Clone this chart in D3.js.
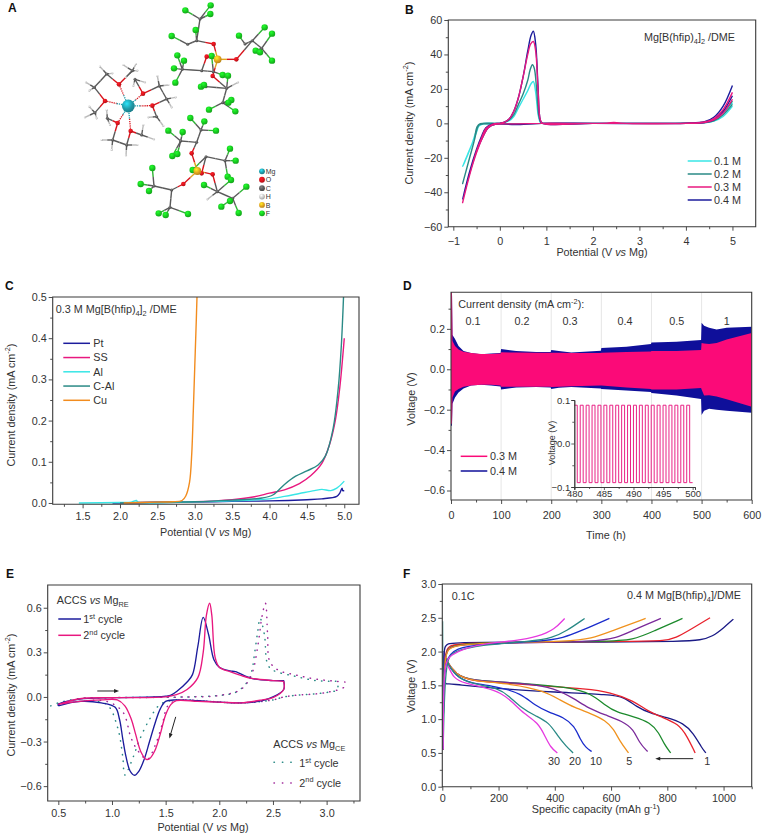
<!DOCTYPE html>
<html><head><meta charset="utf-8">
<script src="https://cdn.jsdelivr.net/npm/d3@7/dist/d3.min.js"></script>
<style>html,body{margin:0;padding:0;background:#fff}svg{display:block}text{font-family:"Liberation Sans",Arial,sans-serif;fill:#333}</style>
</head><body><svg id="c" width="763" height="837"></svg>
<script>
// ---------- Panel A: structure (atom positions in drawing units 0..900)
const mgAtoms=[[385,318]];
const oAtoms=[[357,253],[429,281],[457,317],[315,303],[353,369],[392,393],[641,132],[709,178],[620,170],[638,228],[575,460],[638,523],[550,552],[605,520]];
const bAtoms=[[653,178],[592,513]];
const cAtoms=[[283,262],[320,222],[397,212],[405,238],[478,258],[500,297],[470,350],[285,338],[322,355],[338,420],[380,435],[425,405],[600,57],[590,122],[563,133],[605,212],[547,208],[640,215],[618,260],[680,265],[668,308],[757,122],[735,132],[785,145],[603,390],[590,427],[542,423],[618,470],[675,482],[515,570],[462,558],[510,622],[652,575],[698,595]];
const hAtoms=[[300,200],[337,220],[258,247],[268,272],[370,195],[408,192],[412,212],[378,232],[400,258],[435,247],[472,228],[505,255],[527,292],[515,322],[445,352],[490,378],[268,320],[255,352],[290,355],[320,330],[330,375],[305,420],[335,450],[378,466],[430,375],[462,418],[412,435],[714,247],[622,598]];
const fAtoms=[[632,16],[556,31],[631,42],[587,90],[515,108],[552,182],[532,166],[522,205],[526,248],[603,260],[612,255],[635,168],[668,225],[684,227],[717,107],[794,82],[816,101],[767,152],[780,157],[816,182],[627,329],[694,300],[685,308],[706,334],[571,354],[613,364],[648,392],[505,392],[548,396],[517,468],[532,462],[690,446],[707,482],[683,530],[693,540],[457,504],[422,552],[447,573],[476,640],[497,645],[564,642],[612,555],[664,620],[690,603],[716,639],[739,560],[578,510]];
const heavyBonds=[[283,262,320,222],[320,222,357,253],[357,253,397,212],[283,262,315,303],[315,303,285,338],[429,281,405,238],[429,281,478,258],[478,258,500,297],[500,297,457,317],[457,317,470,350],[353,369,322,355],[353,369,338,420],[338,420,380,435],[380,435,392,393],[392,393,425,405],
[653,178,641,132],[641,132,590,122],[590,122,600,57],[590,122,563,133],[653,178,709,178],[709,178,757,122],[757,122,735,132],[757,122,785,145],[653,178,620,170],[620,170,605,212],[605,212,547,208],[605,212,640,215],[653,178,638,228],[638,228,680,265],[680,265,668,308],[680,265,618,260],
[592,513,575,460],[575,460,590,427],[590,427,603,390],[590,427,542,423],[592,513,605,520],[605,520,618,470],[618,470,675,482],[592,513,638,523],[638,523,652,575],[652,575,698,595],[592,513,550,552],[550,552,515,570],[515,570,462,558],[515,570,510,622]];
const atomKeys=["Mg","O","C","H","B","F"];
const atomColors={Mg:"#1f9aa8",O:"#d8131b",C:"#5a5a5a",H:"#c9c9c9",B:"#e2a31c",F:"#17c91f"};

// ---------- Panel B
const bLabels=["0.1 M","0.2 M","0.3 M","0.4 M"];
const bColors=["#38e6e6","#2a8a86","#e8187f","#1c1c9c"];
const b01=[[5,10],[4.8,4],[4.6,1.3],[4.4,.3],[4,.05],[2,0],[.9,0],[.3,-.3],[-.2,-.3],[-.35,-.3],[-.45,-1.5],[-.6,-12],[-.7,-18.5],[-.8,-25],[-.7,-19],[-.6,-12],[-.5,-5],[-.44,-1],[-.35,-.1],[0,0],[.1,.5],[.2,1.5],[.3,4],[.4,9],[.5,14],[.6,19],[.67,23],[.72,24.3],[.77,18],[.83,4],[.88,.3],[1,0],[2,0],[4,.1],[4.4,.5],[4.6,1.8],[4.8,6],[5,12]];
const b02=[[5,11],[4.8,5],[4.6,1.5],[4.4,.4],[4,.05],[2,0],[.9,0],[.3,-.3],[-.2,-.3],[-.35,-.3],[-.45,-1],[-.55,-10],[-.65,-20],[-.8,-35],[-.65,-20],[-.55,-10],[-.49,-2],[-.42,-.2],[0,0],[.1,.6],[.2,2],[.3,5],[.4,11],[.5,17],[.6,25],[.65,31],[.7,34],[.74,32],[.79,20],[.84,4],[.89,.3],[1,0],[2,0],[4,.1],[4.4,.6],[4.6,2],[4.8,6.5],[5,13]];
const b03=[[5,14],[4.8,6],[4.6,2],[4.4,.5],[4,.05],[2.6,.1],[2.45,.5],[2.3,.1],[.9,0],[.3,-.3],[-.1,-.6],[-.25,-2.5],[-.35,-7],[-.5,-17],[-.65,-30],[-.8,-46],[-.65,-30],[-.5,-16],[-.4,-9],[-.3,-3],[-.15,-.4],[0,0],[.1,.7],[.2,2.5],[.3,7],[.4,15],[.5,27],[.6,40],[.66,46],[.72,47.5],[.77,42],[.82,20],[.87,2],[.92,0],[2,0],[4,.1],[4.4,.8],[4.6,2.8],[4.8,8],[5,18]];
const b04=[[5,16],[4.8,7],[4.6,2],[4.4,.5],[4,.05],[2,0],[.9,0],[.33,-.7],[-.1,-.5],[-.25,-2.5],[-.35,-7],[-.5,-16],[-.65,-29],[-.8,-44],[-.65,-28],[-.5,-15],[-.4,-8],[-.3,-2.5],[-.15,-.4],[0,0],[.1,.7],[.2,2.5],[.3,7],[.4,15],[.5,27],[.6,42],[.67,51],[.72,53.5],[.77,46],[.82,22],[.87,2],[.92,0],[2,0],[4,.1],[4.4,.9],[4.6,3.5],[4.8,10],[5,22]];

// ---------- Panel C
const cLabels=["Pt","SS","Al","C-Al","Cu"];
const cColors=["#1c1c9c","#e8187f","#38e6e6","#2a8a86","#f28c1e"];
const cPt=[[1.9,0],[2.5,.001],[3,.002],[3.5,.004],[4,.005],[4.5,.008],[4.7,.01],[4.9,.016],[4.94,.024],[4.97,.036],[4.98,.03],[5,.03]];
const cSS=[[2,0],[2.5,.002],[3,.003],[3.5,.008],[3.8,.015],[4,.024],[4.2,.032],[4.4,.047],[4.55,.066],[4.7,.096],[4.8,.14],[4.88,.2],[4.94,.28],[5,.4]];
const cAl=[[1.45,0],[2,.001],[2.15,.002],[2.22,.006],[2.24,.002],[3,.003],[3.5,.005],[4,.01],[4.2,.016],[4.4,.023],[4.6,.03],[4.7,.033],[4.82,.03],[4.9,.036],[5,.053]];
const cCAl=[[2,0],[2.5,.002],[3,.003],[3.5,.007],[3.9,.012],[4.05,.02],[4.2,.045],[4.35,.065],[4.5,.078],[4.65,.092],[4.75,.115],[4.85,.18],[4.92,.28],[4.96,.38],[4.99,.5]];
const cCu=[[2.05,0],[2.5,.002],[2.7,.003],[2.83,.006],[2.88,.017],[2.93,.05],[2.96,.12],[2.98,.22],[3,.33],[3.02,.44],[3.03,.5]];

// ---------- Panel D
const dLabels=["0.3 M","0.4 M"];
const dColors=["#fb0a78","#0f0f9a"];
const dTimes=[0,2,3,8,15,25,40,60,80,99,100,130,170,199,200,215,240,299,300,350,399,400,450,499,500,505,515,530,550,600];
const d04Upper=[.381,.381,.17,.15,.115,.09,.08,.075,.078,.08,.1,.09,.085,.085,.095,.09,.083,.092,.105,.112,.125,.133,.136,.145,.23,.215,.205,.197,.205,.21];
const d04Lower=[-.28,-.28,-.17,-.14,-.115,-.095,-.08,-.076,-.08,-.085,-.1,-.09,-.088,-.09,-.098,-.092,-.088,-.095,-.098,-.105,-.113,-.117,-.13,-.147,-.226,-.205,-.195,-.2,-.205,-.215];
const d03Upper=[.381,.381,.14,.115,.098,.087,.08,.076,.076,.078,.084,.083,.082,.082,.082,.082,.08,.08,.082,.085,.088,.09,.09,.095,.13,.128,.125,.13,.148,.18];
const d03Lower=[-.27,-.27,-.14,-.11,-.098,-.087,-.08,-.076,-.077,-.08,-.086,-.086,-.086,-.086,-.088,-.086,-.084,-.08,-.08,-.09,-.098,-.1,-.1,-.093,-.1,-.13,-.128,-.135,-.148,-.185];
const dTickCurrents=["0.1","0.2","0.3","0.4","0.5","1"];
const insetSwitch=[480,480.5,481,481.5,482,482.5,483,483.5,484,484.5,485,485.5,486,486.5,487,487.5,488,488.5,489,489.5,490,490.5,491,491.5,492,492.5,493,493.5,494,494.5,495,495.5,496,496.5,497,497.5,498,498.5,499,499.5,500];
const insetLevels=[.088,-.09];

// ---------- Panel E
const e1=[[.5,-.06],[.5,-.05],[.7,-.015],[1,-.005],[1.4,0],[1.5,.005],[1.55,.012],[1.6,.035],[1.7,.1],[1.75,.15],[1.8,.34],[1.85,.535],[1.9,.42],[1.95,.25],[2,.2],[2.1,.175],[2.15,.17],[2.3,.125],[2.5,.11],[2.6,.11],[2.6,.11],[2.6,.05],[2.5,0],[2.4,-.025],[2.2,-.04],[2,-.035],[1.8,-.025],[1.6,-.02],[1.5,-.03],[1.45,-.08],[1.4,-.18],[1.35,-.3],[1.3,-.42],[1.25,-.5],[1.21,-.527],[1.17,-.5],[1.13,-.4],[1.1,-.28],[1.07,-.15],[1.03,-.07],[.9,-.04],[.7,-.03],[.5,-.06]];
const e2=[[.5,-.05],[.7,-.012],[1,-.005],[1.5,0],[1.6,.015],[1.7,.05],[1.8,.13],[1.85,.3],[1.88,.55],[1.91,.63],[1.93,.55],[1.96,.27],[2,.2],[2.1,.17],[2.2,.145],[2.3,.125],[2.5,.11],[2.6,.105],[2.6,.105],[2.6,.05],[2.5,-.005],[2.4,-.02],[2.2,-.04],[2,-.035],[1.8,-.03],[1.6,-.025],[1.55,-.05],[1.5,-.12],[1.45,-.25],[1.4,-.36],[1.35,-.415],[1.32,-.42],[1.27,-.37],[1.22,-.25],[1.18,-.15],[1.12,-.06],[1.05,-.02],[.9,-.02],[.7,-.03],[.5,-.05]];
const eCE1=[[.43,-.06],[.5,-.04],[.7,-.01],[1,-.005],[1.7,0],[2,.01],[2.15,.03],[2.25,.09],[2.3,.17],[2.33,.3],[2.36,.45],[2.38,.53],[2.42,.42],[2.45,.22],[2.5,.18],[2.7,.14],[2.9,.11],[3.1,.105],[3.1,.105],[3.1,.05],[3,.03],[2.7,.01],[2.6,0],[2.5,-.02],[2.2,-.04],[1.9,-.03],[1.6,-.02],[1.45,-.05],[1.35,-.15],[1.25,-.3],[1.2,-.4],[1.12,-.525],[1.1,-.4],[1.05,-.2],[.95,-.05],[.7,-.03],[.5,-.05]];
const eCE2=[[.5,-.05],[.7,-.012],[1,-.005],[1.7,0],[2,.01],[2.2,.05],[2.3,.15],[2.36,.35],[2.4,.55],[2.43,.63],[2.45,.42],[2.47,.24],[2.55,.18],[2.7,.15],[2.9,.12],[3.17,.1],[3.17,.1],[3.17,.07],[3,.03],[2.7,.01],[2.6,0],[2.5,-.02],[2.2,-.04],[1.9,-.03],[1.6,-.025],[1.52,-.06],[1.47,-.18],[1.4,-.33],[1.33,-.42],[1.25,-.37],[1.18,-.28],[1.1,-.1],[.95,-.03],[.7,-.03],[.5,-.05]];

// ---------- Panel F
const fColors=["#1a1a86","#e8222c","#1c8a2c","#7a2a9a","#f0921e","#1a2ccc","#2a8a86","#e63ae0"];
const fCycleLabels=["30","20","10","5","1"];
const fCharge=[
[[3,.55],[3,.55],[4,1.4],[5,2],[10,2.08],[20,2.12],[40,2.13],[200,2.14],[600,2.14],[850,2.15],[920,2.17],[960,2.22],[1000,2.35],[1035,2.48],[1035,2.48]],
[[3,.55],[3,.55],[4,1.4],[10,2.05],[30,2.12],[300,2.14],[700,2.15],[790,2.16],[830,2.2],[880,2.32],[952,2.5],[952,2.5]],
[[3,.55],[3,.55],[4,1.4],[10,2],[30,2.12],[300,2.14],[580,2.15],[680,2.17],[750,2.3],[854,2.49],[854,2.49]],
[[3,.55],[3,.55],[4,1.4],[10,2],[30,2.11],[300,2.13],[540,2.15],[620,2.2],[680,2.32],[777,2.49],[777,2.49]],
[[3,.55],[3,.55],[4,1.4],[10,1.98],[30,2.1],[200,2.13],[450,2.15],[530,2.19],[600,2.3],[723,2.49],[723,2.49]],
[[3,.55],[3,.55],[4,1.4],[10,1.9],[50,2.05],[130,2.11],[350,2.15],[430,2.2],[500,2.32],[594,2.49],[594,2.49]],
[[1,2.45],[1,2.45],[3,.55],[3,.55],[10,1.9],[40,2],[130,2.1],[320,2.15],[390,2.2],[440,2.3],[506,2.49],[506,2.49]],
[[3,.55],[3,.55],[4,1.4],[10,1.85],[30,1.95],[80,2.05],[150,2.12],[260,2.16],[340,2.22],[400,2.33],[435,2.49],[435,2.49]]];
const fDischarge=[
[[5,2],[5,2],[6,1.5],[20,1.53],[50,1.51],[200,1.45],[400,1.4],[600,1.36],[644,1.33],[692,1.18],[739,1.085],[798,1.026],[858,.94],[893,.79],[923,.57],[937,.5],[937,.5]],
[[5,2],[5,2],[10,1.88],[50,1.65],[100,1.57],[200,1.54],[400,1.48],[500,1.45],[600,1.4],[680,1.27],[730,1.12],[780,1.03],[840,.93],[870,.75],[899,.5],[899,.5]],
[[5,2],[5,2],[10,1.88],[50,1.65],[100,1.57],[300,1.53],[450,1.47],[530,1.38],[580,1.2],[620,1.1],[680,1.04],[740,.95],[770,.8],[790,.62],[812,.5],[812,.5]],
[[5,2],[5,2],[10,1.88],[50,1.65],[100,1.57],[300,1.53],[400,1.46],[470,1.3],[520,1.16],[580,1.06],[640,.97],[680,.85],[700,.65],[730,.52],[730,.52]],
[[5,2],[5,2],[10,1.88],[50,1.65],[100,1.57],[250,1.52],[360,1.42],[420,1.28],[470,1.17],[530,1.08],[580,.98],[610,.85],[630,.68],[662,.5],[662,.5]],
[[5,2],[5,2],[10,1.88],[50,1.62],[100,1.53],[200,1.48],[280,1.38],[330,1.2],[380,1.1],[430,1.03],[470,.9],[490,.7],[510,.58],[531,.52],[531,.52]],
[[5,2],[5,2],[10,1.88],[50,1.62],[100,1.53],[200,1.46],[240,1.33],[280,1.17],[330,1.05],[380,.95],[410,.75],[440,.6],[465,.5],[465,.5]],
[[5,2],[5,2],[10,1.85],[20,1.8],[40,1.6],[80,1.53],[150,1.47],[210,1.39],[250,1.25],[290,1.08],[340,.95],[365,.75],[385,.58],[409,.5],[409,.5]]];

// ---------- helpers
const svg=d3.select("#c");
const defs=svg.append("defs");
const axisColor="#3a3a3a", FS=10.8;
let clipId=0;
function rich(g,x,y,segs,o={}){
  const fs=o.size||FS;
  const t=g.append("text").attr("x",x).attr("y",y).attr("font-size",fs).attr("text-anchor",o.anchor||"start");
  if(o.rotate) t.attr("transform",`rotate(-90 ${x} ${y})`);
  let shift=0;
  segs.forEach(s=>{
    const [str,st]=Array.isArray(s)?s:[s,null];
    const ts=t.append("tspan").text(str);
    let target=0;
    if(st==="sub"){target=fs*.28;ts.attr("font-size",fs*.68);}
    if(st==="sup"){target=-fs*.38;ts.attr("font-size",fs*.68);}
    if(st==="i")ts.attr("font-style","italic");
    ts.attr("dy",target-shift);shift=target;
  });
  return t;
}
function panel(p){
  const x=d3.scaleLinear().domain(p.xd).range([p.l,p.r]);
  const y=d3.scaleLinear().domain(p.yd).range([p.b,p.t]);
  const g=svg.append("g");
  const id="clip"+(++clipId);
  defs.append("clipPath").attr("id",id).append("rect").attr("x",p.l).attr("y",p.t).attr("width",p.r-p.l).attr("height",p.b-p.t);
  const plot=g.append("g").attr("clip-path",`url(#${id})`);
  const over=g.append("g");
  const ax=over.append("g").attr("transform",`translate(0,${p.b})`).call(d3.axisBottom(x).tickValues(p.xt).tickFormat(p.xf||d3.format("")).tickSize(4).tickPadding(p.xpad||5));
  const ay=over.append("g").attr("transform",`translate(${p.l},0)`).call(d3.axisLeft(y).tickValues(p.yt).tickFormat(p.yf||d3.format("")).tickSize(4).tickPadding(2));
  const axm=over.append("g").attr("transform",`translate(0,${p.b})`).call(d3.axisBottom(x).tickValues(p.xm).tickFormat("").tickSize(2.5));
  const aym=over.append("g").attr("transform",`translate(${p.l},0)`).call(d3.axisLeft(y).tickValues(p.ym).tickFormat("").tickSize(2.5));
  [ax,ay,axm,aym].forEach(a=>{a.selectAll("path").remove();a.selectAll("line").attr("stroke",axisColor).attr("stroke-width",.9);a.selectAll("text").attr("font-size",FS).attr("fill","#333").attr("font-family",'"Liberation Sans",Arial,sans-serif');});
  if(p.frame!==false) over.append("path").attr("fill","none").attr("stroke",axisColor).attr("stroke-width",1.1)
    .attr("d",`M${x.range()[0]},${y.range()[1]}H${x.range()[1]}V${y.range()[0]}H${x.range()[0]}Z`);
  return {x,y,plot,over,g};
}
const lineFn=(P,c)=>d3.line().x(d=>P.x(d[0])).y(d=>P.y(d[1])).curve(c||d3.curveCatmullRom.alpha(.5));
function draw(P,data,color,w=1.35,dash,curve){
  const s=P.plot.append("path").datum(data).attr("fill","none").attr("stroke",color).attr("stroke-width",w).attr("stroke-linejoin","round").attr("d",lineFn(P,curve));
  if(dash) s.attr("stroke-dasharray",dash).attr("stroke-linecap","round");
  return s;
}
function arrow(P,a,b,w=1){
  const over=P.over, x1=P.x(a[0]),y1=P.y(a[1]),x2=P.x(b[0]),y2=P.y(b[1]);
  const an=Math.atan2(y2-y1,x2-x1), L=5, W=1.9;
  over.append("line").attr("x1",x1).attr("y1",y1).attr("x2",x2-Math.cos(an)*L*.7).attr("y2",y2-Math.sin(an)*L*.7).attr("stroke","#222").attr("stroke-width",w);
  const px=Math.cos(an+Math.PI/2)*W, py=Math.sin(an+Math.PI/2)*W;
  over.append("path").attr("fill","#222").attr("d",`M${x2},${y2}L${x2-Math.cos(an)*L+px},${y2-Math.sin(an)*L+py}L${x2-Math.cos(an)*L-px},${y2-Math.sin(an)*L-py}Z`);
}
function legendLine(g,x1,x2,y,color,w=1.5,dash){
  const l=g.append("line").attr("x1",x1).attr("x2",x2).attr("y1",y).attr("y2",y).attr("stroke",color).attr("stroke-width",w);
  if(dash) l.attr("stroke-dasharray",dash).attr("stroke-linecap","round");
}
const root=svg.append("g");
const panelLetter=(s,x,y)=>root.append("text").attr("x",x).attr("y",y).attr("font-size",12).attr("font-weight","bold").style("fill","#111").text(s);
const CD=["Current density (mA cm",["-2","sup"],")"];
const POT=["Potential (V ",["vs","i"]," Mg)"];

// ---------- A
(function(){
  const m=d3.scaleLinear().domain([0,900]).range([0,300]);
  const gA=svg.append("g");
  atomKeys.forEach(k=>{
    const g=defs.append("radialGradient").attr("id","grad"+k).attr("cx","38%").attr("cy","32%").attr("r","70%");
    g.append("stop").attr("offset","0%").attr("stop-color",d3.color(atomColors[k]).brighter(1.1));
    g.append("stop").attr("offset","60%").attr("stop-color",atomColors[k]);
    g.append("stop").attr("offset","100%").attr("stop-color",d3.color(atomColors[k]).darker(.6));
  });
  const typeOf=new Map();
  [["Mg",mgAtoms],["O",oAtoms],["C",cAtoms],["H",hAtoms],["B",bAtoms],["F",fAtoms]].forEach(([k,a])=>a.forEach(p=>typeOf.set(p.join(),k)));
  const seg=(a,b,ca,cb)=>{
    const mx=(a[0]+b[0])/2,my=(a[1]+b[1])/2;
    [[a,[mx,my],ca],[[mx,my],b,cb]].forEach(([p,q,c])=>gA.append("line").attr("x1",m(p[0])).attr("y1",m(p[1])).attr("x2",m(q[0])).attr("y2",m(q[1])).attr("stroke",c).attr("stroke-width",1.4));
  };
  const nearest=p=>d3.least(cAtoms,c=>(c[0]-p[0])**2+(c[1]-p[1])**2);
  hAtoms.forEach(p=>seg(nearest(p),p,"#5a5a5a","#bbb"));
  fAtoms.forEach(p=>seg(nearest(p),p,"#5a5a5a","#2fb535"));
  heavyBonds.forEach(b=>{
    const a=[b[0],b[1]],c=[b[2],b[3]];
    const col=q=>{const t=typeOf.get(q.join());return t==="C"?"#5a5a5a":atomColors[t]||"#5a5a5a";};
    seg(a,c,col(a),col(c));
  });
  oAtoms.slice(0,6).forEach(o=>{
    const q=mgAtoms[0],mx=(o[0]+q[0])/2,my=(o[1]+q[1])/2;
    gA.append("line").attr("x1",m(o[0])).attr("y1",m(o[1])).attr("x2",m(mx)).attr("y2",m(my)).attr("stroke","#d8131b").attr("stroke-width",1.3).attr("stroke-dasharray","1.3 .9");
    gA.append("line").attr("x1",m(mx)).attr("y1",m(my)).attr("x2",m(q[0])).attr("y2",m(q[1])).attr("stroke","#1f9aa8").attr("stroke-width",1.3).attr("stroke-dasharray","1.3 .9");
  });
  const radius={Mg:6.4,O:2.3,C:1.5,H:1.1,B:3.9,F:3.2};
  [["H",hAtoms],["C",cAtoms],["F",fAtoms],["O",oAtoms],["B",bAtoms],["Mg",mgAtoms]].forEach(([k,a])=>{
    gA.selectAll(null).data(a).enter().append("circle").attr("cx",d=>m(d[0])).attr("cy",d=>m(d[1])).attr("r",radius[k]).attr("fill",`url(#grad${k})`);
  });
  const ly=d3.scalePoint().domain(atomKeys).range([m(514),m(640)]);
  gA.selectAll(null).data(atomKeys).enter().append("circle").attr("cx",m(786)).attr("cy",d=>ly(d)).attr("r",2.9).attr("fill",d=>`url(#grad${d})`);
  gA.selectAll(null).data(atomKeys).enter().append("text").attr("x",m(797)).attr("y",d=>ly(d)+2.6).attr("font-size",7).text(d=>d);
  panelLetter("A",8,12);
})();

// ---------- B
(function(){
  const P=panel({l:448.3,r:755.7,t:20,b:226.7,xd:[-1.108,5.5],yd:[-60,60],xt:d3.range(-1,6),xm:d3.range(-.5,5.5,1),yt:d3.range(-60,61,20),ym:d3.range(-50,60,20),xpad:6.5});
  [b01,b02,b04,b03].forEach((d,i)=>draw(P,d,[bColors[0],bColors[1],bColors[3],bColors[2]][i],1.4));
  rich(P.over,644,41,["Mg[B(hfip)",["4","sub"],"]",["2","sub"]," /DME"]);
  bLabels.forEach((s,i)=>{const yy=161+i*13;legendLine(P.over,687.7,711.7,yy,bColors[i]);rich(P.over,714,yy+3.7,[s]);});
  rich(P.over,602,256,POT,{anchor:"middle"});
  rich(P.over,412.5,123,CD,{anchor:"middle",rotate:true});
  panelLetter("B",405,14);
})();

// ---------- C
(function(){
  const P=panel({l:52.7,r:359,t:297,b:504.3,xd:[1.1,5.197],yd:[-.0032,.5],xt:d3.range(1.5,5.01,.5),xm:d3.range(1.25,5.2,.5),yt:[0,.1,.2,.3,.4,.5],ym:[.05,.15,.25,.35,.45],xf:d3.format(".1f"),yf:d3.format(".1f"),xpad:4.5});
  [cPt,cSS,cAl,cCAl,cCu].forEach((d,i)=>draw(P,d,cColors[i],1.4));
  rich(P.over,55.7,313,["0.3 M Mg[B(hfip)",["4","sub"],"]",["2","sub"]," /DME"]);
  cLabels.forEach((s,i)=>{const yy=343.3+i*14.25;legendLine(P.over,63.3,90,yy,cColors[i]);rich(P.over,93.3,yy+3.7,[s]);});
  rich(P.over,205.7,536,POT,{anchor:"middle"});
  rich(P.over,14.5,405,CD,{anchor:"middle",rotate:true});
  panelLetter("C",5,290);
})();

// ---------- D
(function(){
  const P=panel({l:451,r:751.7,t:292.3,b:500,xd:[0,600],yd:[-.647,.381],xt:d3.range(0,601,100),xm:d3.range(50,600,100),yt:[-.6,-.4,-.2,0,.2],ym:[-.5,-.3,-.1,.1,.3],yf:d3.format(".1f"),xpad:7.5});
  d3.range(100,600,100).forEach(v=>P.plot.append("line").attr("x1",P.x(v)).attr("x2",P.x(v)).attr("y1",P.y(.381)).attr("y2",P.y(-.647)).attr("stroke","#dfdfdf").attr("stroke-width",.8));
  const band=(up,lo,color)=>P.plot.append("path").datum(dTimes.map((t,i)=>[t,up[i],lo[i]])).attr("fill",color)
    .attr("d",d3.area().x(d=>P.x(d[0])).y0(d=>P.y(d[2])).y1(d=>P.y(d[1])));
  band(d04Upper,d04Lower,dColors[1]);
  band(d03Upper,d03Lower,dColors[0]);
  rich(P.over,458.3,307.7,["Current density (mA cm",["-2","sup"],"):"]);
  [473,522,570,625,676.7,726.7].forEach((cx,i)=>rich(P.over,cx,325,[dTickCurrents[i]],{anchor:"middle"}));
  dLabels.forEach((s,i)=>{const yy=456.3+i*14.7;legendLine(P.over,460.7,487.3,yy,dColors[i]);rich(P.over,490,yy+3.7,[s]);});
  rich(P.over,606,539,["Time (h)"],{anchor:"middle"});
  rich(P.over,415,399,["Voltage (V)"],{anchor:"middle",rotate:true});
  panelLetter("D",403,290);
  // inset
  const ix=d3.scaleLinear().domain([480,500.4]).range([574.3,695]);
  const iy=d3.scaleLinear().domain([-.1,.1]).range([487,400]);
  const ig=P.over.append("g");
  const pts=[];insetSwitch.slice(0,-1).forEach((t,i)=>{const v=insetLevels[i%2];pts.push([t,v]);pts.push([insetSwitch[i+1],v]);});
  ig.append("path").datum(pts).attr("fill","none").attr("stroke","#e8187f").attr("stroke-width",.95).attr("stroke-linejoin","round")
    .attr("d",d3.line().x(d=>ix(d[0])).y(d=>iy(d[1])));
  const xa=ig.append("g").attr("transform","translate(0,487)").call(d3.axisBottom(ix).tickValues([480,485,490,495,500]).tickFormat(d3.format("d")).tickSize(3).tickPadding(0));
  const ya=ig.append("g").attr("transform","translate(574.3,0)").call(d3.axisLeft(iy).tickValues([-.1,0,.1]).tickFormat(d3.format(".1f")).tickSize(3).tickPadding(1));
  const xam=ig.append("g").attr("transform","translate(0,487)").call(d3.axisBottom(ix).tickValues([482.5,487.5,492.5,497.5]).tickFormat("").tickSize(2));
  const yam=ig.append("g").attr("transform","translate(574.3,0)").call(d3.axisLeft(iy).tickValues([-.05,.05]).tickFormat("").tickSize(2));
  [xa,ya,xam,yam].forEach(a=>{a.selectAll("line").attr("stroke",axisColor).attr("stroke-width",.8);a.selectAll("path").attr("stroke",axisColor).attr("stroke-width",.9);a.selectAll("text").attr("font-size",9.5).attr("fill","#333").attr("font-family",'"Liberation Sans",Arial,sans-serif');});
  rich(ig,555,443,["Voltage (V)"],{anchor:"middle",rotate:true,size:9});
})();

// ---------- E
(function(){
  const P=panel({l:47.7,r:360,t:585,b:801,xd:[.401,3.311],yd:[-.7,.753],xt:[.5,1,1.5,2,2.5,3],xm:[.75,1.25,1.75,2.25,2.75,3.25],yt:[-.6,-.3,0,.3,.6],ym:[-.45,-.15,.15,.45],xf:d3.format(".1f"),yf:d3.format(".1f"),xpad:4});
  draw(P,eCE1,"#2a8a86",1.5,"0.4 6.5");
  draw(P,eCE2,"#a0289a",1.5,"0.4 6.5");
  draw(P,e1,"#1c1c9c",1.35);
  draw(P,e2,"#e8187f",1.35);
  arrow(P,[.863,.04],[1.066,.04]);
  arrow(P,[1.594,-.134],[1.535,-.279]);
  rich(P.over,56.7,604,["ACCS ",["vs","i"]," Mg",["RE","sub"]]);
  legendLine(P.over,58.3,81,619,"#1c1c9c");
  legendLine(P.over,58.3,81,635.3,"#e8187f");
  rich(P.over,83.3,623,["1",["st","sup"]," cycle"]);
  rich(P.over,83.3,639,["2",["nd","sup"]," cycle"]);
  rich(P.over,273.3,748.3,["ACCS ",["vs","i"]," Mg",["CE","sub"]]);
  legendLine(P.over,274,293,762.3,"#2a8a86",1.5,"0.4 8");
  legendLine(P.over,274,293,783,"#a0289a",1.5,"0.4 8");
  rich(P.over,299.3,767,["1",["st","sup"]," cycle"]);
  rich(P.over,299.3,786.5,["2",["nd","sup"]," cycle"]);
  rich(P.over,203,831,POT,{anchor:"middle"});
  rich(P.over,14.5,695,CD,{anchor:"middle",rotate:true});
  panelLetter("E",6,578);
})();

// ---------- F
(function(){
  const P=panel({l:442.3,r:751.7,t:584,b:786.7,xd:[0,1100],yd:[0,3],xt:[0,200,400,600,800,1000],xm:[100,300,500,700,900,1100],yt:[0,.5,1,1.5,2,2.5,3],ym:[.25,.75,1.25,1.75,2.25,2.75],yf:d3.format(".1f"),xpad:3.5});
  fDischarge.forEach((d,i)=>draw(P,d,fColors[i],1.3,null,d3.curveBasis));
  fCharge.forEach((d,i)=>draw(P,d,fColors[i],1.3,null,d3.curveBasis));
  arrow(P,[892,.415],[757,.415]);
  rich(P.over,451.7,600,["0.1C"]);
  rich(P.over,627,599,["0.4 M Mg[B(hfip)",["4","sub"],"]/DME"]);
  [554,575,596,629.3,707.3].forEach((cx,i)=>rich(P.over,cx,765,[fCycleLabels[i]],{anchor:"middle"}));
  rich(P.over,596,813,["Specific capacity (mAh g",["-1","sup"],")"],{anchor:"middle"});
  rich(P.over,415,686,["Voltage (V)"],{anchor:"middle",rotate:true});
  panelLetter("F",403,578);
})();
</script></body></html>
